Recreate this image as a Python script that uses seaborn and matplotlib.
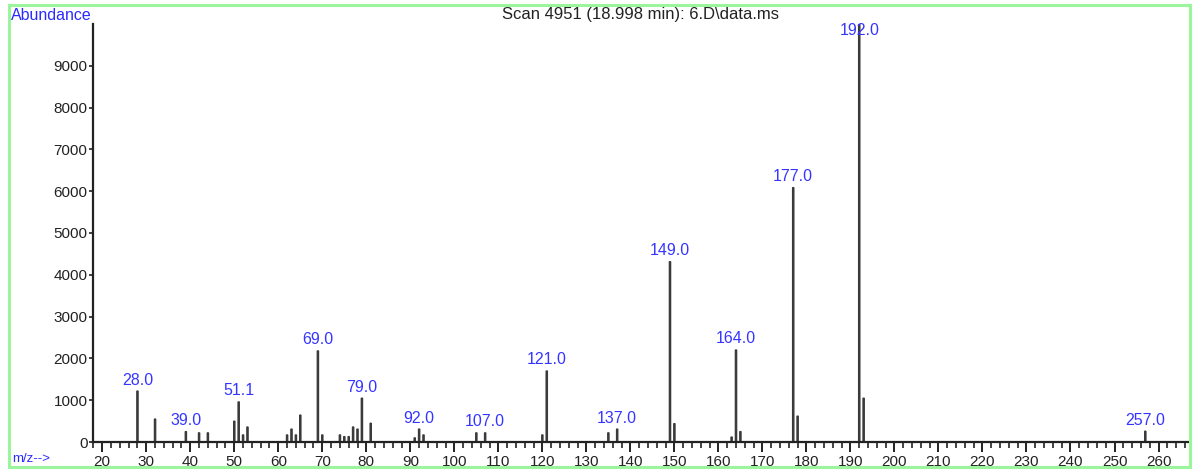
import matplotlib
matplotlib.use("Agg")
import matplotlib.pyplot as plt
import seaborn as sns
import numpy as np
import pandas as pd
from matplotlib.ticker import MultipleLocator
from matplotlib.patches import Rectangle

# ---- data ----
mz = [28, 32, 39, 42, 44, 50, 51, 52, 53, 62, 63, 64, 65, 69, 70, 74, 75, 76,
      77, 78, 79, 81, 91, 92, 93, 105, 107, 120, 121, 135, 137, 149, 150, 163,
      164, 165, 177, 178, 192, 193, 257]
abundance = [1220, 550, 250, 220, 220, 500, 960, 170, 360, 170, 310, 170, 645,
             2180, 170, 170, 130, 130, 360, 310, 1050, 450, 100, 310, 170, 220,
             220, 170, 1700, 220, 310, 4315, 440, 120, 2202, 250, 6087, 620,
             9990, 1050, 260]
label_mz = [28, 39, 51, 69, 79, 92, 107, 121, 137, 149, 164, 177, 192, 257]
label_text = ["28.0", "39.0", "51.1", "69.0", "79.0", "92.0", "107.0", "121.0",
              "137.0", "149.0", "164.0", "177.0", "192.0", "257.0"]
title = "Scan 4951 (18.998 min): 6.D\\data.ms"
y_ticks = [0, 1000, 2000, 3000, 4000, 5000, 6000, 7000, 8000, 9000]
x_ticks = list(range(20, 261, 10))

sns.set_theme(style="white")
plt.rcParams["font.family"] = ["Liberation Sans", "DejaVu Sans"]

df = pd.DataFrame({"mz": mz, "abundance": abundance})

fig = plt.figure(figsize=(11.93, 4.72), dpi=100)
ax = fig.add_axes([93 / 1193, 1 - 442 / 472, (1188 - 93) / 1193, (442 - 24) / 472])

sns.barplot(data=df, x="mz", y="abundance", native_scale=True, width=0.3,
            color="#3a3a3a", saturation=1, linewidth=0.9, edgecolor="#3a3a3a",
            ax=ax)
for p in ax.patches:
    p.set_snap(False)

ax.set_xlim(17.9, 266.7)
ax.set_ylim(0, 10000)
ax.set_xlabel("")
ax.set_ylabel("")

for s in ["top", "right"]:
    ax.spines[s].set_visible(False)
for s in ["left", "bottom"]:
    ax.spines[s].set_color("#222222")
    ax.spines[s].set_linewidth(1.6)

ax.set_xticks(x_ticks)
ax.set_xticklabels([str(t) for t in x_ticks])
ax.xaxis.set_minor_locator(MultipleLocator(2))
ax.set_yticks(y_ticks)
ax.set_yticklabels([str(t) for t in y_ticks])
ax.tick_params(axis="x", which="major", direction="out", length=7, width=1.4,
               color="#222222", labelsize=11, pad=2, bottom=True)
ax.tick_params(axis="x", which="minor", direction="out", length=4, width=1.2,
               color="#222222", bottom=True)
ax.tick_params(axis="y", which="major", direction="out", length=3, width=1.2,
               color="#222222", labelsize=11, pad=1, left=True)
for lab in ax.get_xticklabels() + ax.get_yticklabels():
    lab.set_color("#222222")

lookup = dict(zip(mz, abundance))
for m, t in zip(label_mz, label_text):
    top = lookup[m]
    ypos = min(top, 9580)
    ax.annotate(t, xy=(m, ypos), xytext=(0, 2.5), textcoords="offset points",
                ha="center", va="bottom", fontsize=11.5, color="#3535ff",
                annotation_clip=False)

fig.text(11 / 1193, 1 - 15 / 472, "Abundance", color="#2a2aff", fontsize=11.5,
         ha="left", va="center")
fig.text(640 / 1193, 1 - 15 / 472, title, color="#222222", fontsize=12,
         ha="center", va="center")
fig.text(12 / 1193, 1 - 459 / 472, "m/z-->", color="#2a2aff", fontsize=9.5,
         ha="left", va="center")

# green frame around the whole chart
fig.patches.append(Rectangle((9 / 1193, 1 - 467 / 472), (1190 - 9) / 1193,
                             (467 - 5) / 472, transform=fig.transFigure,
                             fill=False, edgecolor="#9cf59c", linewidth=2.2))

fig.savefig("out.png", dpi=100)
